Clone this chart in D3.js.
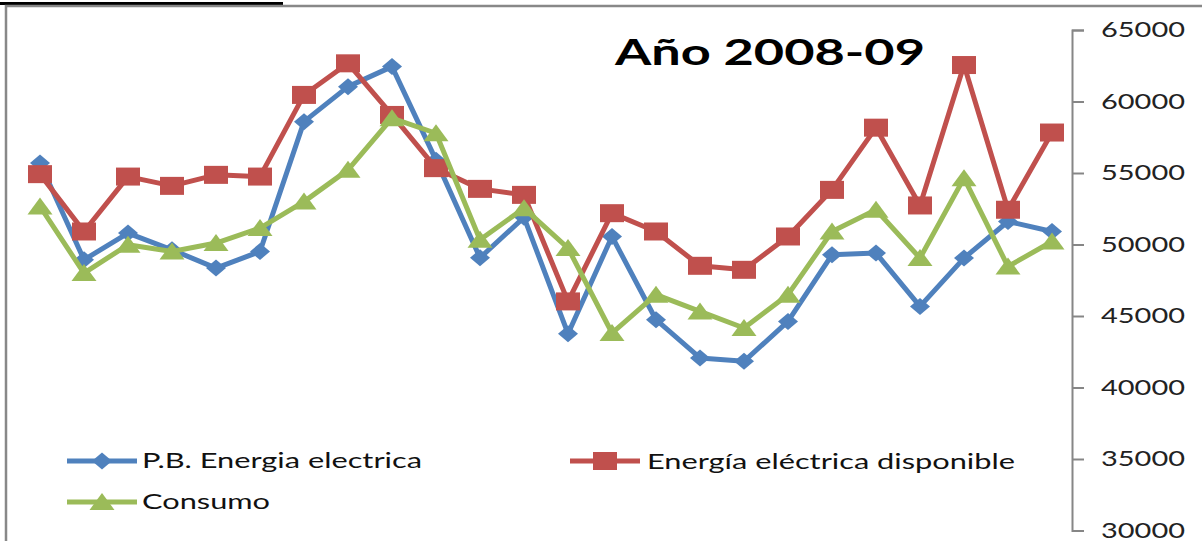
<!DOCTYPE html>
<html lang="es">
<head>
  <meta charset="UTF-8">
  <title>Año 2008-09</title>
  <script src="https://d3js.org/d3.v7.min.js"></script>
  <style>
    body { margin: 0; background: #fff; font-family: 'Lato', 'DejaVu Sans'; }
    svg { display: block; }
    .axis text { font-family: 'Lato', 'DejaVu Sans'; font-size: 21px; fill: #222; }
    .axis path, .axis line { stroke: #868686; stroke-width: 2px; }
  </style>
</head>
<body>
  <svg width="1202" height="541"></svg>
  <script>
    // periods (no labels on the category axis)
    const categories = [1, 2, 3, 4, 5, 6, 7, 8, 9, 10, 11, 12,
                        13, 14, 15, 16, 17, 18, 19, 20, 21, 22, 23, 24];

    const pbEnergia = [55700, 48930, 50800, 49630, 48350, 49510, 58590, 61040, 62440, 55900, 49070, 51900,
                       43760, 50560, 44740, 42070, 41830, 44620, 49280, 49400, 45670, 49050, 51610, 50910];
    const energiaDisp = [54920, 50910, 54750, 54100, 54870, 54750, 60460, 62670, 59060, 55340, 53890, 53470,
                         46020, 52190, 50910, 48510, 48230, 50560, 53820, 58170, 52730, 62550, 52430, 57830];
    const consumo = [52660, 48000, 49980, 49510, 50100, 51150, 53000, 55220, 58830, 57780, 50330, 52540,
                     49750, 43810, 46490, 45320, 44160, 46490, 50910, 52430, 49050, 54640, 48460, 50210];

    const yTicks = [30000, 35000, 40000, 45000, 50000, 55000, 60000, 65000];

    const series = [
      { name: "P.B. Energia electrica", values: pbEnergia, color: "#4F81BD", marker: "diamond" },
      { name: "Energía eléctrica disponible", values: energiaDisp, color: "#C0504D", marker: "square" },
      { name: "Consumo", values: consumo, color: "#9BBB59", marker: "triangle" }
    ];

    const svg = d3.select("svg");

    // frame
    svg.append("rect").attr("x", 0).attr("y", 2).attr("width", 283).attr("height", 3).attr("fill", "#000");
    svg.append("path")
      .attr("d", "M6,541V6H1202")
      .attr("fill", "none")
      .attr("stroke", "#888")
      .attr("stroke-width", 2.5);

    const x = d3.scaleBand().domain(categories).range([18, 1074]);
    const y = d3.scaleLinear().domain([30000, 65000]).range([530.5, 30]);
    const cx = d => x(d) + x.bandwidth() / 2;

    // right value axis
    const axis = svg.append("g")
      .attr("class", "axis")
      .attr("transform", "translate(1072,0)")
      .call(d3.axisRight(y).tickValues(yTicks).tickSize(12).tickPadding(17).tickFormat(d3.format("d")));
    axis.selectAll("text")
      .attr("textLength", 84)
      .attr("lengthAdjust", "spacingAndGlyphs");

    function drawMarker(g, type, color) {
      if (type === "diamond") {
        g.append("path").attr("d", "M0,-8.5L10,0L0,8.5L-10,0Z").attr("fill", color);
      } else if (type === "square") {
        g.append("rect").attr("x", -12).attr("y", -9).attr("width", 24).attr("height", 18).attr("fill", color);
      } else {
        g.append("path").attr("d", "M0,-9L12.5,8L-12.5,8Z").attr("fill", color);
      }
    }

    const line = d3.line()
      .x((d, i) => cx(categories[i]))
      .y(d => y(d));

    series.forEach(s => {
      svg.append("path")
        .datum(s.values)
        .attr("d", line)
        .attr("fill", "none")
        .attr("stroke", s.color)
        .attr("stroke-width", 5)
        .attr("stroke-linejoin", "round");
      svg.append("g")
        .selectAll("g")
        .data(s.values)
        .join("g")
        .attr("transform", (d, i) => `translate(${cx(categories[i])},${y(d)})`)
        .each(function () { drawMarker(d3.select(this), s.marker, s.color); });
    });

    // title
    svg.append("text")
      .attr("x", 615).attr("y", 65)
      .attr("textLength", 310).attr("lengthAdjust", "spacingAndGlyphs")
      .style("font-size", "37px").style("font-weight", "bold")
      .text("Año 2008-09");

    // legend
    const legendPos = [
      { lx: 67, ly: 461, tx: 142, ty: 468, tw: 280 },
      { lx: 570, ly: 461, tx: 647, ty: 469, tw: 368 },
      { lx: 67, ly: 502, tx: 142, ty: 509, tw: 128 }
    ];
    series.forEach((s, i) => {
      const p = legendPos[i];
      const lg = svg.append("g");
      lg.append("line")
        .attr("x1", p.lx).attr("x2", p.lx + 70)
        .attr("y1", p.ly).attr("y2", p.ly)
        .attr("stroke", s.color).attr("stroke-width", 5);
      drawMarker(lg.append("g").attr("transform", `translate(${p.lx + 35},${p.ly})`), s.marker, s.color);
      lg.append("text")
        .attr("x", p.tx).attr("y", p.ty)
        .attr("textLength", p.tw).attr("lengthAdjust", "spacingAndGlyphs")
        .style("font-size", "22px").style("fill", "#111")
        .text(s.name);
    });
  </script>
</body>
</html>
